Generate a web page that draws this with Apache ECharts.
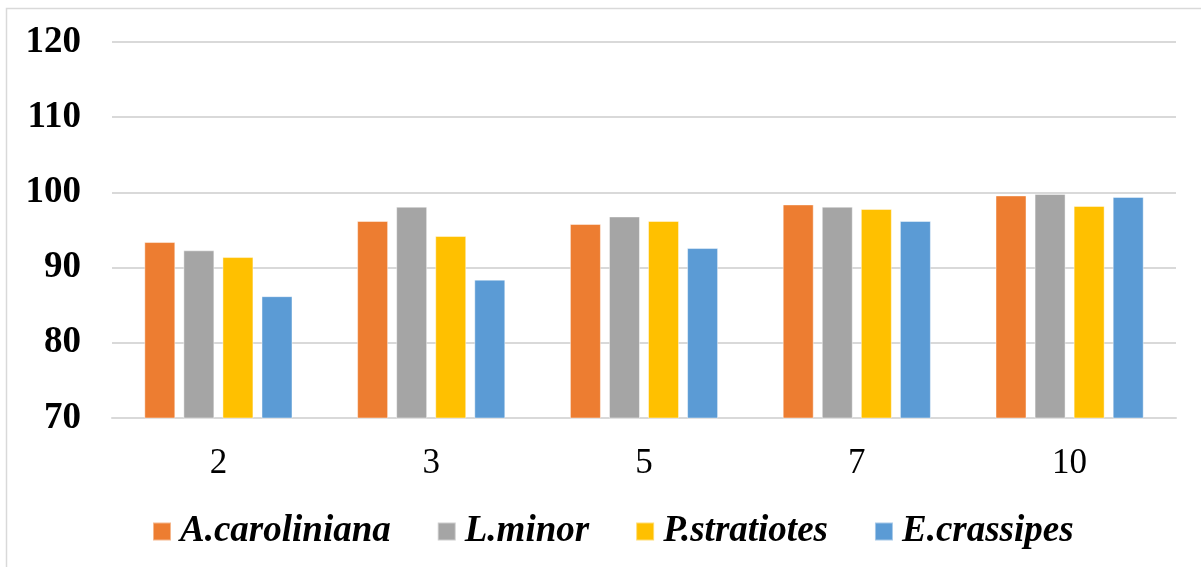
<!DOCTYPE html>
<html>
<head>
<meta charset="utf-8">
<script src="https://cdn.jsdelivr.net/npm/echarts@6/dist/echarts.min.js"></script>
<style>
  html, body { margin: 0; padding: 0; background: #ffffff; }
  #chart { width: 1201px; height: 567px; }
</style>
</head>
<body>
<div id="chart"></div>
<script>
// Days of exposure on the x axis
const categories = ['2', '3', '5', '7', '10'];

// Removal efficiency (%) per plant species
const aCaroliniana = [93.4, 96.2, 95.8, 98.4, 99.6];
const lMinor       = [92.3, 98.1, 96.8, 98.1, 99.8];
const pStratiotes  = [91.4, 94.2, 96.2, 97.8, 98.2];
const eCrassipes   = [86.2, 88.4, 92.6, 96.2, 99.4];

const seriesNames = ['A.caroliniana', 'L.minor', 'P.stratiotes', 'E.crassipes'];
const seriesData = [aCaroliniana, lMinor, pStratiotes, eCrassipes];
const seriesColors = ['#ED7D31', '#A5A5A5', '#FFC000', '#5B9BD5'];

const yTicks = { min: 70, max: 120, interval: 10 };

const serif = '"Liberation Serif", "DejaVu Serif", serif';

const chart = echarts.init(document.getElementById('chart'), null, { renderer: 'canvas' });

chart.setOption({
  animation: false,
  backgroundColor: '#ffffff',
  graphic: [{
    type: 'rect',
    shape: { x: 6.5, y: 8.5, width: 1400, height: 800 },
    style: { fill: 'none', stroke: '#d9d9d9', lineWidth: 1.5 },
    silent: true,
    z: -1
  }],
  grid: { left: 112, right: 25, top: 42, bottom: 149 },
  legend: {
    data: seriesNames,
    left: 152,
    top: 513,
    padding: 0,
    itemWidth: 18,
    itemHeight: 18,
    itemGap: 46,
    icon: 'rect',
    textStyle: {
      fontFamily: serif,
      fontSize: 37,
      fontWeight: 'bold',
      fontStyle: 'italic',
      color: '#000000',
      padding: [0, 0, 0, 4]
    }
  },
  xAxis: {
    type: 'category',
    data: categories,
    axisTick: { show: false },
    axisLine: { lineStyle: { color: '#d9d9d9', width: 2 } },
    axisLabel: {
      margin: 28,
      fontFamily: serif,
      fontSize: 35,
      color: '#000000'
    }
  },
  yAxis: {
    type: 'value',
    min: yTicks.min,
    max: yTicks.max,
    interval: yTicks.interval,
    axisLine: { show: false },
    axisTick: { show: false },
    splitLine: { lineStyle: { color: '#d9d9d9', width: 2 } },
    axisLabel: {
      margin: 31,
      fontFamily: serif,
      fontSize: 37,
      fontWeight: 'bold',
      color: '#000000'
    }
  },
  series: seriesNames.map((name, i) => ({
    name: name,
    type: 'bar',
    data: seriesData[i],
    barWidth: 31,
    barGap: '26%',
    itemStyle: {
      color: seriesColors[i],
      borderColor: 'rgba(255,255,255,0.45)',
      borderWidth: 1
    }
  }))
});
</script>
</body>
</html>
